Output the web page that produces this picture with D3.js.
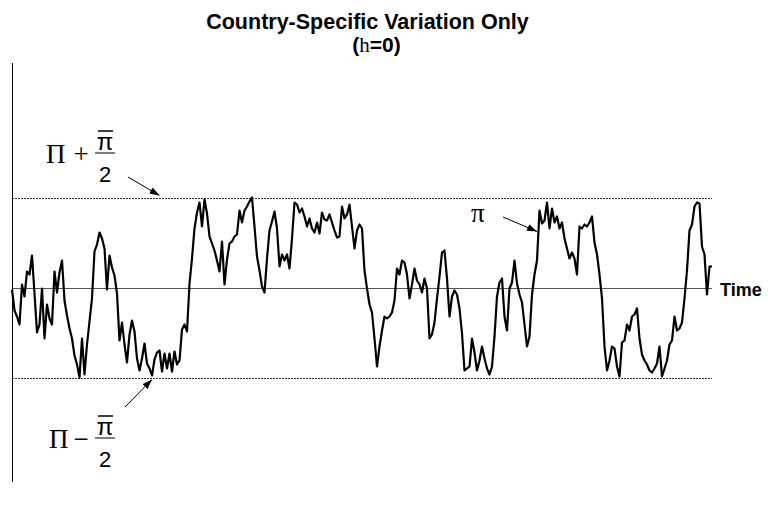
<!DOCTYPE html>
<html>
<head>
<meta charset="utf-8">
<script src="https://cdn.jsdelivr.net/npm/d3@7"></script>
<style>
  body { margin: 0; background: #fff; }
</style>
</head>
<body>
<div id="chart"></div>
<script>

// inflation deviation from the union average
// (units: band edges Π ± π̄/2 are at +90 / -90)
const inflation = [
    -1, -22, -28, -36, 4, -8, 17, 14, 33, -5,
    -44, -36, 0, -50, -16, -30, -36, 17, -4, 16,
    28, -12, -27, -40, -50, -67, -76, -89, -50, -86,
    -56, -33, -10, 37, 44, 56, 50, 40, -1, 33,
    21, 13, -5, -52, -34, -56, -74, -46, -32, -43,
    -70, -82, -70, -55, -75, -80, -87, -71, -64, -62,
    -83, -65, -80, -65, -83, -63, -76, -72, -41, -36,
    -43, 5, 30, 60, 76, 86, 62, 89, 75, 52,
    45, 38, 28, 17, 47, 4, 29, 45, 47, 52,
    54, 78, 66, 78, 82, 87, 91, 62, 32, 18,
    2, -4, 30, 58, 67, 77, 60, 22, 34, 28,
    34, 20, 50, 86, 84, 76, 80, 72, 62, 70,
    60, 56, 66, 55, 76, 69, 68, 74, 66, 58,
    51, 52, 82, 70, 74, 84, 62, 40, 58, 64,
    60, 18, 0, -16, -24, -50, -78, -58, -42, -28,
    -30, -28, -24, -12, 20, 14, 28, 26, 14, -10,
    4, 20, 8, 4, -4, 10, 0, -50, -46, -34,
    -10, 12, 36, 38, 10, -28, -8, -2, -6, -20,
    -45, -82, -80, -78, -50, -64, -82, -72, -58, -70,
    -80, -86, -78, -48, -8, 6, 10, -28, -42, 0,
    6, 28, 5, -6, -14, -36, -58, -48, -6, 14,
    28, 78, 65, 68, 86, 60, 80, 66, 72, 60,
    66, 50, 40, 30, 36, 30, 14, 62, 60, 64,
    62, 66, 72, 46, 34, 14, -10, -58, -82, -72,
    -58, -60, -78, -88, -54, -52, -36, -42, -28, -26,
    -20, -50, -66, -72, -76, -82, -84, -80, -75, -58,
    -88, -80, -72, -56, -52, -28, -42, -40, -34, -10,
    18, 58, 64, 82, 86, 85, 42, 34, -6, 22, 22
];

const unionAverage = 0;      // Π
const halfBand = 90;         // π̄ / 2
const bandLines = [unionAverage + halfBand, unionAverage, unionAverage - halfBand];

const title = "Country-Specific Variation Only";
const xLabel = "Time";

// 1. dimensions

const dimensions = {
    width: 768,
    height: 513,
    margin: { top: 63, right: 56, bottom: 31, left: 12 },
};

const plotLeft = dimensions.margin.left;
const plotRight = dimensions.width - dimensions.margin.right;

// 2. canvas

const chart = d3.select("#chart")
    .append("svg")
    .attr("width", dimensions.width)
    .attr("height", dimensions.height)
    .style("font-family", "'Liberation Sans', Arial, sans-serif");

chart.append("defs")
    .append("marker")
    .attr("id", "head")
    .attr("viewBox", "0 0 10 7")
    .attr("refX", 10)
    .attr("refY", 3.5)
    .attr("markerWidth", 10)
    .attr("markerHeight", 7)
    .attr("markerUnits", "userSpaceOnUse")
    .attr("orient", "auto")
    .append("path")
    .attr("d", "M0,0 L10,3.5 L0,7 Z")
    .attr("fill", "#000");

// 3. scales

const periods = inflation.map((d, i) => i);

const xScale = d3.scaleLinear()
    .domain([0, periods.length - 1])
    .range([plotLeft, plotRight]);

const yScale = d3.scaleLinear()
    .domain([-halfBand, halfBand])
    .range([378.5, 198.5]);

// 4. reference lines + axis

chart.selectAll("line.band")
    .data(bandLines)
    .join("line")
    .attr("class", "band")
    .attr("x1", plotLeft)
    .attr("x2", plotRight)
    .attr("y1", d => yScale(d))
    .attr("y2", d => yScale(d))
    .attr("stroke", d => d === unionAverage ? "#555" : "#333")
    .attr("stroke-width", 1)
    .attr("stroke-dasharray", d => d === unionAverage ? null : "2,1");

chart.append("line")
    .attr("x1", plotLeft + 0.5)
    .attr("x2", plotLeft + 0.5)
    .attr("y1", dimensions.margin.top)
    .attr("y2", dimensions.height - dimensions.margin.bottom)
    .attr("stroke", "#000")
    .attr("stroke-width", 1);

// 5. the series

const line = d3.line()
    .x((d, i) => xScale(periods[i]))
    .y(d => yScale(d));

chart.append("path")
    .datum(inflation)
    .attr("d", line)
    .attr("fill", "none")
    .attr("stroke", "#000")
    .attr("stroke-width", 2.2)
    .attr("stroke-linejoin", "round");

// 6. peripherals

chart.append("text")
    .attr("x", 367.5)
    .attr("y", 28.5)
    .attr("text-anchor", "middle")
    .style("font-size", "21.5px")
    .style("font-weight", "bold")
    .text(title);

const sub = chart.append("text")
    .attr("x", 376.5)
    .attr("y", 52)
    .attr("text-anchor", "middle")
    .style("font-size", "21px")
    .style("font-weight", "bold");
sub.append("tspan").text("(");
sub.append("tspan")
    .style("font-family", "'Liberation Serif', 'Times New Roman', serif")
    .style("font-weight", "normal")
    .text("h");
sub.append("tspan").text("=0)");

chart.append("text")
    .attr("x", plotRight + 8)
    .attr("y", yScale(unionAverage) + 7)
    .style("font-size", "18px")
    .style("font-weight", "bold")
    .text(xLabel);

// band labels:  Π ± π̄/2
function bandLabel(sign, piX, baseY) {
    const g = chart.append("g");
    g.append("text")
        .attr("x", piX)
        .attr("y", baseY)
        .style("font-family", "'Liberation Serif', serif")
        .style("font-size", "27px")
        .text("Π");
    g.append("text")
        .attr("x", 81)
        .attr("y", baseY)
        .attr("text-anchor", "middle")
        .style("font-family", "'Liberation Serif', serif")
        .style("font-size", "27px")
        .text(sign);
    // fraction
    g.append("text")
        .attr("x", 105)
        .attr("y", baseY - 13)
        .attr("text-anchor", "middle")
        .style("font-size", "24px")
        .text("π");
    g.append("line")
        .attr("x1", 98).attr("x2", 113)
        .attr("y1", baseY - 32).attr("y2", baseY - 32)
        .attr("stroke", "#000").attr("stroke-width", 1.5);
    g.append("line")
        .attr("x1", 95).attr("x2", 115)
        .attr("y1", baseY - 10).attr("y2", baseY - 10)
        .attr("stroke", "#000").attr("stroke-width", 1);
    g.append("text")
        .attr("x", 105)
        .attr("y", baseY + 19)
        .attr("text-anchor", "middle")
        .style("font-size", "22px")
        .text("2");
}
bandLabel("+", 46, 163);
bandLabel("−", 49, 448);

chart.append("text")
    .attr("x", 471)
    .attr("y", 222)
    .style("font-family", "'Liberation Serif', serif")
    .style("font-size", "27px")
    .text("π");

// arrows
const arrows = [
    { from: [128, 177], to: [xScale(59), yScale(halfBand) - 3] },
    { from: [125, 407], to: [xScale(56), yScale(-halfBand) + 1] },
    { from: [503, 217], to: [xScale(210), yScale(57)] },
];

chart.selectAll("line.arrow")
    .data(arrows)
    .join("line")
    .attr("class", "arrow")
    .attr("x1", d => d.from[0])
    .attr("y1", d => d.from[1])
    .attr("x2", d => d.to[0])
    .attr("y2", d => d.to[1])
    .attr("stroke", "#000")
    .attr("stroke-width", 1)
    .attr("marker-end", "url(#head)");

</script>
</body>
</html>
